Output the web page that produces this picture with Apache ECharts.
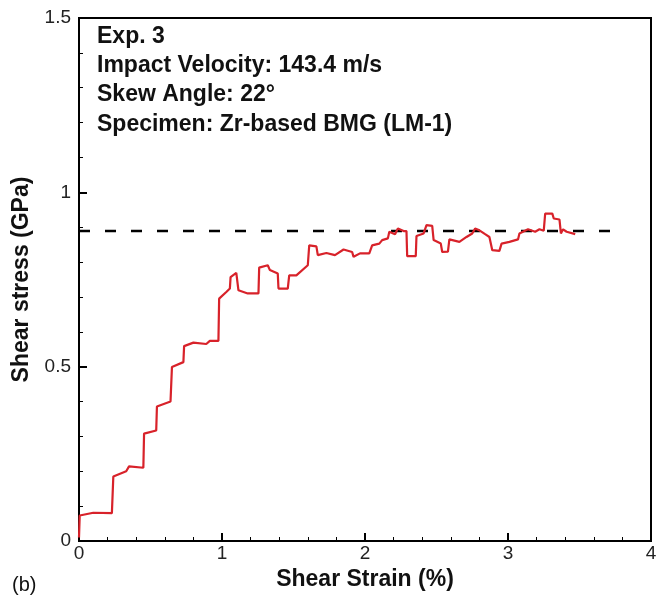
<!DOCTYPE html>
<html>
	<head>
		<meta charset="UTF-8">
		<title>Shear stress vs shear strain</title>
		<script src="https://cdn.jsdelivr.net/npm/echarts@6/dist/echarts.min.js"></script>
		<style>
			html, body {
				margin: 0;
				padding: 0;
				background: #fff;
			}
			#main {
				width: 669px;
				height: 597px;
			}
		</style>
	</head>
	<body>
		<div id="main"></div>
		<script>
			// 读图得到的数据 (Shear Strain %, Shear stress GPa)
			var strain = [0, 0.005, 0.10, 0.23, 0.24, 0.33, 0.35, 0.45, 0.455, 0.54, 0.545, 0.64, 0.65, 0.73, 0.735, 0.80, 0.89, 0.915, 0.975, 0.98,
				1.03, 1.055, 1.06, 1.10, 1.115, 1.18, 1.255, 1.26, 1.32, 1.335, 1.39, 1.395, 1.46, 1.47, 1.52, 1.60, 1.61, 1.66, 1.67, 1.73,
				1.79, 1.85, 1.91, 1.92, 1.965, 2.03, 2.05, 2.10, 2.12, 2.16, 2.17, 2.21, 2.23, 2.27, 2.29, 2.295, 2.355, 2.36, 2.41, 2.43,
				2.47, 2.48, 2.53, 2.54, 2.58, 2.59, 2.66, 2.71, 2.75, 2.77, 2.80, 2.84, 2.87, 2.89, 2.94, 2.955, 3.01, 3.07, 3.08, 3.14,
				3.19, 3.22, 3.25, 3.26, 3.31, 3.32, 3.36, 3.37, 3.385, 3.41, 3.47];
			var stress = [0.01, 0.073, 0.081, 0.08, 0.185, 0.20, 0.214, 0.21, 0.308, 0.317, 0.386, 0.40, 0.499, 0.513, 0.559, 0.569, 0.565, 0.574, 0.574, 0.695,
				0.714, 0.724, 0.757, 0.769, 0.719, 0.71, 0.71, 0.784, 0.791, 0.777, 0.767, 0.724, 0.724, 0.762, 0.762, 0.791, 0.848, 0.845, 0.82, 0.826,
				0.82, 0.836, 0.829, 0.815, 0.825, 0.825, 0.848, 0.853, 0.863, 0.868, 0.887, 0.88, 0.896, 0.889, 0.889, 0.817, 0.817, 0.875, 0.882, 0.906,
				0.904, 0.863, 0.853, 0.829, 0.83, 0.865, 0.858, 0.872, 0.882, 0.896, 0.891, 0.88, 0.872, 0.834, 0.832, 0.853, 0.858, 0.865, 0.882, 0.894,
				0.887, 0.894, 0.89, 0.939, 0.939, 0.925, 0.922, 0.882, 0.894, 0.887, 0.88];
			// 参考线
			var refStrain = [0, 3.72];
			var refStress = [0.889, 0.889];
			var infoLines = ['Exp. 3', 'Impact Velocity: 143.4 m/s', 'Skew Angle: 22\u00b0', 'Specimen: Zr-based BMG (LM-1)'];

			var curve = [];
			for(var i = 0; i < strain.length; i++) {
				curve.push([strain[i], stress[i]]);
			}
			var refLine = [];
			for(var j = 0; j < refStrain.length; j++) {
				refLine.push([refStrain[j], refStress[j]]);
			}

			var font = '"Liberation Sans", Arial, sans-serif';
			var textEls = [];
			for(var k = 0; k < infoLines.length; k++) {
				textEls.push({
					type: 'text',
					left: 97,
					top: 25 + k * 29.3,
					style: {
						text: infoLines[k],
						font: 'bold 23px ' + font,
						fill: '#111'
					}
				});
			}
			textEls.push({
				type: 'text',
				left: 12,
				top: 575,
				style: {
					text: '(b)',
					font: '20px ' + font,
					fill: '#111'
				}
			});

			var myChart = echarts.init(document.getElementById('main'));
			var option = {
				animation: false,
				backgroundColor: '#fff',
				grid: {
					left: 79,
					right: 18,
					top: 18,
					bottom: 56,
					show: true,
					borderColor: '#000',
					borderWidth: 2,
					backgroundColor: 'transparent'
				},
				xAxis: {
					type: 'value',
					min: 0,
					max: 4,
					interval: 1,
					name: 'Shear Strain (%)',
					nameLocation: 'middle',
					nameGap: 27,
					nameTextStyle: {
						fontFamily: font,
						fontWeight: 'bold',
						fontSize: 23,
						color: '#111'
					},
					axisLine: {
						lineStyle: { color: '#000', width: 2 }
					},
					axisTick: {
						inside: true,
						length: 8,
						lineStyle: { color: '#000', width: 2 }
					},
					minorTick: {
						show: true,
						splitNumber: 5,
						length: 4,
						lineStyle: { color: '#000', width: 1 }
					},
					axisLabel: {
						fontFamily: font,
						fontSize: 19,
						color: '#222',
						margin: 3
					},
					splitLine: { show: false }
				},
				yAxis: {
					type: 'value',
					min: 0,
					max: 1.5,
					interval: 0.5,
					name: 'Shear stress (GPa)',
					nameLocation: 'middle',
					nameGap: 46,
					nameTextStyle: {
						fontFamily: font,
						fontWeight: 'bold',
						fontSize: 23,
						color: '#111'
					},
					axisLine: {
						lineStyle: { color: '#000', width: 2 }
					},
					axisTick: {
						inside: true,
						length: 8,
						lineStyle: { color: '#000', width: 2 }
					},
					minorTick: {
						show: true,
						splitNumber: 5,
						length: 4,
						lineStyle: { color: '#000', width: 1 }
					},
					axisLabel: {
						fontFamily: font,
						fontSize: 19,
						color: '#222',
						margin: 8
					},
					splitLine: { show: false }
				},
				series: [{
					name: 'ref',
					type: 'line',
					showSymbol: false,
					data: refLine,
					lineStyle: {
						color: '#000',
						width: 2.5,
						type: [11, 15]
					},
					z: 2
				}, {
					name: 'stress',
					type: 'line',
					showSymbol: false,
					data: curve,
					lineStyle: {
						color: '#d8222a',
						width: 2.2
					},
					z: 3
				}],
				graphic: textEls
			};
			myChart.setOption(option);
		</script>
	</body>
</html>
